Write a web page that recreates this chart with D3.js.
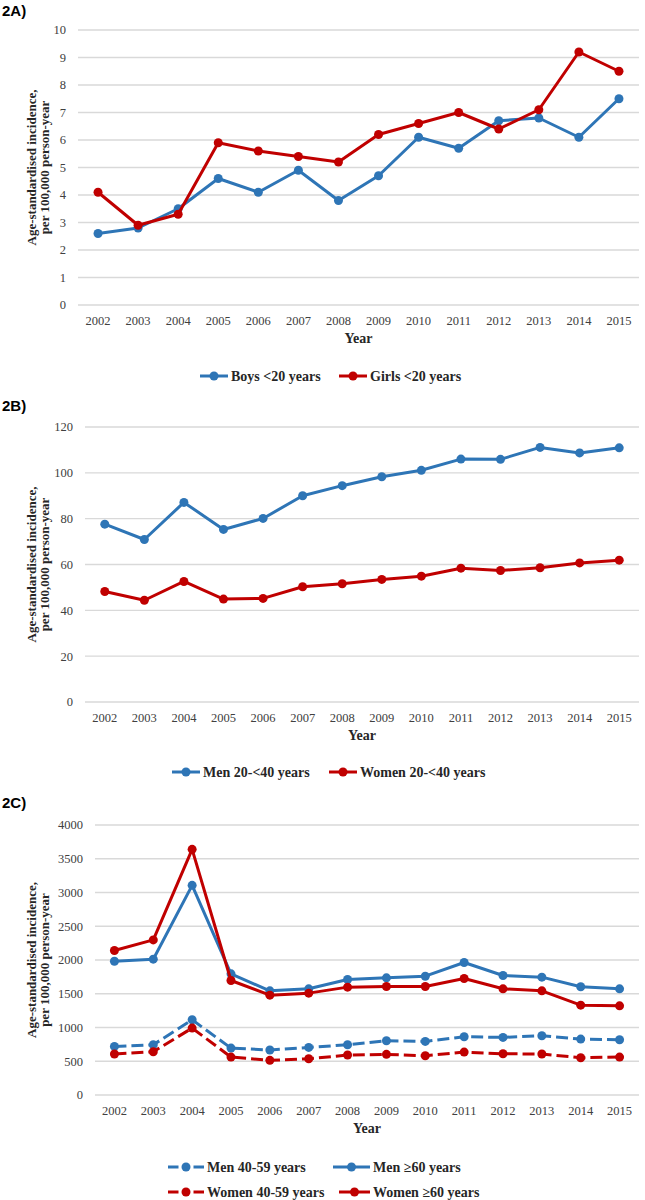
<!DOCTYPE html>
<html>
<head>
<meta charset="utf-8">
<script src="https://cdn.jsdelivr.net/npm/d3@7"></script>
<style>
  html, body { margin: 0; padding: 0; background: #fff; }
  svg { display: block; }
  .tick-label { font-family: "Liberation Serif", "Times New Roman", serif; font-size: 12.5px; fill: #404040; }
  .axis-title { font-family: "Liberation Serif", "Times New Roman", serif; font-size: 13px; font-weight: bold; fill: #262626; }
  .legend-text { font-family: "Liberation Serif", "Times New Roman", serif; font-size: 14px; font-weight: bold; fill: #262626; }
  .panel-label { font-family: "Liberation Sans", Arial, sans-serif; font-size: 15px; font-weight: bold; fill: #000; }
</style>
</head>
<body>
<svg id="chart" width="645" height="1200"></svg>
<script>
// ---------- DATA ----------
const years = [2002, 2003, 2004, 2005, 2006, 2007, 2008, 2009, 2010, 2011, 2012, 2013, 2014, 2015];

// Panel 2A
const boysUnder20  = [2.6, 2.8, 3.5, 4.6, 4.1, 4.9, 3.8, 4.7, 6.1, 5.7, 6.7, 6.8, 6.1, 7.5];
const girlsUnder20 = [4.1, 2.9, 3.3, 5.9, 5.6, 5.4, 5.2, 6.2, 6.6, 7.0, 6.4, 7.1, 9.2, 8.5];
const ticksA = [0, 1, 2, 3, 4, 5, 6, 7, 8, 9, 10];

// Panel 2B
const men20to40   = [77.6, 70.9, 87.1, 75.3, 80.1, 90.0, 94.4, 98.3, 101.1, 106.0, 105.9, 111.1, 108.7, 110.9];
const women20to40 = [48.2, 44.4, 52.6, 44.9, 45.2, 50.3, 51.6, 53.5, 54.9, 58.4, 57.4, 58.6, 60.7, 61.9];
const ticksB = [0, 20, 40, 60, 80, 100, 120];

// Panel 2C
const men40to59   = [720, 745, 1114, 695, 666, 705, 745, 804, 794, 863, 853, 878, 828, 819];
const menOver60   = [1982, 2012, 3106, 1795, 1543, 1573, 1711, 1736, 1760, 1963, 1770, 1746, 1603, 1573];
const women40to59 = [607, 641, 991, 562, 513, 537, 592, 602, 582, 636, 611, 607, 552, 562];
const womenOver60 = [2140, 2298, 3639, 1696, 1479, 1509, 1598, 1607, 1607, 1726, 1573, 1543, 1331, 1321];
const ticksC = [0, 500, 1000, 1500, 2000, 2500, 3000, 3500, 4000];

const yTitle1 = "Age-standardised incidence,";
const yTitle2 = "per 100,000 person-year";
const xTitle = "Year";

const BLUE = "#2e75b6";
const RED = "#c00000";

const svg = d3.select("#chart");

function drawPanel(cfg) {
  const g = svg.append("g");
  const x = d3.scaleBand().domain(years).range([cfg.x0, cfg.x1]);
  const cx = d => x(d) + x.bandwidth() / 2;
  const y = d3.scaleLinear().domain([0, cfg.ticks[cfg.ticks.length - 1]]).range([cfg.yBottom, cfg.yTop]);

  // panel label
  g.append("text").attr("class", "panel-label").attr("x", 2).attr("y", cfg.labelY).text(cfg.label);

  // gridlines
  g.selectAll(".grid").data(cfg.ticks).enter().append("line")
    .attr("x1", cfg.x0).attr("x2", cfg.x1)
    .attr("y1", d => y(d)).attr("y2", d => y(d))
    .attr("stroke", "#d9d9d9").attr("stroke-width", 1.3);

  // y tick labels
  g.selectAll(".ylab").data(cfg.ticks).enter().append("text")
    .attr("class", "tick-label")
    .attr("x", cfg.x0 - 12).attr("y", d => y(d)).attr("dy", "0.35em")
    .attr("text-anchor", "end").text(d => d);

  // x tick labels
  g.selectAll(".xlab").data(years).enter().append("text")
    .attr("class", "tick-label")
    .attr("x", d => cx(d)).attr("y", cfg.yBottom + 20)
    .attr("text-anchor", "middle").text(d => d);

  // x title
  g.append("text").attr("class", "axis-title").style("font-size", "14px")
    .attr("x", (cfg.x0 + cfg.x1) / 2).attr("y", cfg.yBottom + 38)
    .attr("text-anchor", "middle").text(xTitle);

  // y title
  const cy = (cfg.yTop + cfg.yBottom) / 2;
  g.append("text").attr("class", "axis-title")
    .attr("transform", `translate(36,${cy}) rotate(-90)`)
    .attr("text-anchor", "middle").text(yTitle1);
  g.append("text").attr("class", "axis-title")
    .attr("transform", `translate(49,${cy}) rotate(-90)`)
    .attr("text-anchor", "middle").text(yTitle2);

  // series
  const line = d3.line().x((d, i) => cx(years[i])).y(d => y(d));
  cfg.series.forEach(s => {
    g.append("path").datum(s.values)
      .attr("d", line).attr("fill", "none")
      .attr("stroke", s.color).attr("stroke-width", 3)
      .attr("stroke-linejoin", "round")
      .attr("stroke-dasharray", s.dashed ? "12,5" : null);
    g.selectAll(null).data(s.values).enter().append("circle")
      .attr("cx", (d, i) => cx(years[i])).attr("cy", d => y(d))
      .attr("r", 4.5).attr("fill", s.color);
  });

  // legend
  cfg.legend.forEach(item => {
    const lg = g.append("g");
    const len = item.x1 - item.x0;
    const gap = 15;
    lg.append("line").attr("x1", item.x0).attr("x2", item.x1)
      .attr("y1", item.y).attr("y2", item.y)
      .attr("stroke", item.color).attr("stroke-width", 3)
      .attr("stroke-dasharray", item.dashed ? `${(len - gap) / 2},${gap},${(len - gap) / 2}` : null);
    lg.append("circle").attr("cx", (item.x0 + item.x1) / 2).attr("cy", item.y)
      .attr("r", 4.5).attr("fill", item.color);
    lg.append("text").attr("class", "legend-text")
      .attr("x", item.x1 + 3).attr("y", item.y).attr("dy", "0.35em")
      .text(item.name);
  });
}

drawPanel({
  label: "2A)", labelY: 16,
  x0: 78, x1: 639, yTop: 30, yBottom: 305, ticks: ticksA,
  series: [
    { values: boysUnder20, color: BLUE },
    { values: girlsUnder20, color: RED }
  ],
  legend: [
    { name: "Boys <20 years", color: BLUE, x0: 200, x1: 228, y: 376 },
    { name: "Girls <20 years", color: RED, x0: 339, x1: 367, y: 376 }
  ]
});

drawPanel({
  label: "2B)", labelY: 411,
  x0: 85, x1: 639, yTop: 427, yBottom: 702, ticks: ticksB,
  series: [
    { values: men20to40, color: BLUE },
    { values: women20to40, color: RED }
  ],
  legend: [
    { name: "Men 20-<40 years", color: BLUE, x0: 172, x1: 200, y: 772 },
    { name: "Women 20-<40 years", color: RED, x0: 329, x1: 357, y: 772 }
  ]
});

drawPanel({
  label: "2C)", labelY: 808,
  x0: 95, x1: 639, yTop: 825, yBottom: 1095, ticks: ticksC,
  series: [
    { values: men40to59, color: BLUE, dashed: true },
    { values: women40to59, color: RED, dashed: true },
    { values: menOver60, color: BLUE },
    { values: womenOver60, color: RED }
  ],
  legend: [
    { name: "Men 40-59 years", color: BLUE, dashed: true, x0: 168, x1: 204, y: 1167 },
    { name: "Men \u226560 years", color: BLUE, x0: 333, x1: 370, y: 1167 },
    { name: "Women 40-59 years", color: RED, dashed: true, x0: 168, x1: 204, y: 1192 },
    { name: "Women \u226560 years", color: RED, x0: 339, x1: 370, y: 1192 }
  ]
});
</script>
</body>
</html>
